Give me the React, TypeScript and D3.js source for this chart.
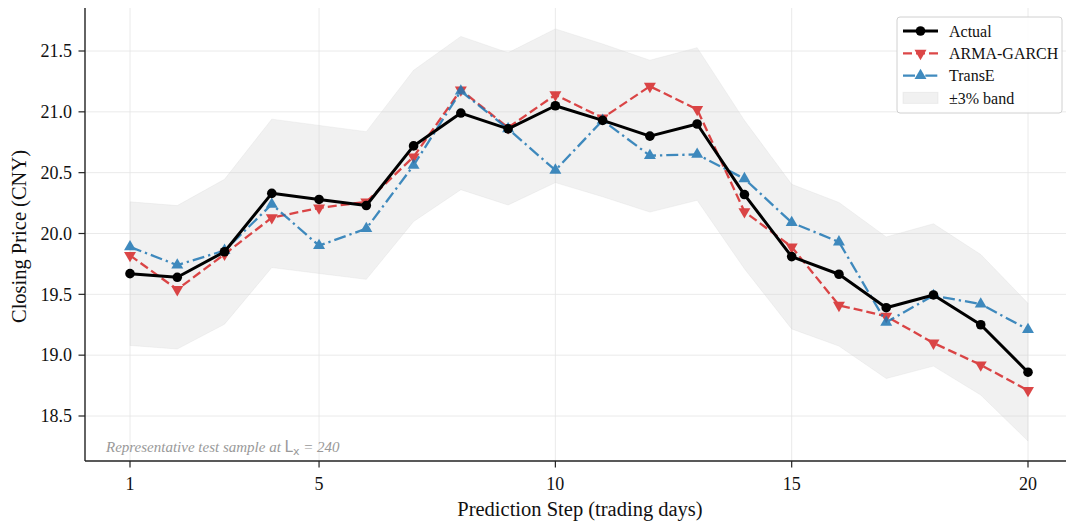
import React from "react";
import * as d3 from "d3";

const steps = [1, 2, 3, 4, 5, 6, 7, 8, 9, 10, 11, 12, 13, 14, 15, 16, 17, 18, 19, 20];
const actual = [19.67, 19.64, 19.85, 20.33, 20.28, 20.23, 20.72, 20.99, 20.86, 21.05, 20.93, 20.8, 20.9, 20.32, 19.81, 19.665, 19.39, 19.495, 19.25, 18.86];
const armaGarch = [19.82, 19.54, 19.83, 20.13, 20.21, 20.26, 20.63, 21.18, 20.87, 21.14, 20.95, 21.21, 21.02, 20.18, 19.89, 19.41, 19.32, 19.1, 18.92, 18.71];
const transE = [19.89, 19.74, 19.86, 20.24, 19.9, 20.04, 20.56, 21.17, 20.86, 20.52, 20.93, 20.64, 20.65, 20.45, 20.09, 19.93, 19.27, 19.49, 19.42, 19.21];
const BAND_PCT = 0.03;
const xTicks = [1, 5, 10, 15, 20];
const yTicks = [18.5, 19.0, 19.5, 20.0, 20.5, 21.0, 21.5];
const legendLabels = ["Actual", "ARMA-GARCH", "TransE", "±3% band"];

const W = 1066;
const H = 522;
const left = 85;
const right = 1066;
const top = 8;
const bottom = 461;

const RED = "#d62728";
const BLUE = "#1f77b4";
const SERIF = "'Liberation Serif', 'Times New Roman', serif";

export default function App() {
  const x = d3.scaleLinear().domain([1, 20]).range([130, 1028]);
  const y = d3.scaleLinear().domain([18.5, 21.5]).range([416, 51]);

  const line = d3
    .line<number>()
    .x((_, i) => x(steps[i]))
    .y((d) => y(d));

  const area = d3
    .area<number>()
    .x((_, i) => x(steps[i]))
    .y0((d) => y(d * (1 - BAND_PCT)))
    .y1((d) => y(d * (1 + BAND_PCT)));

  const triUp = d3.symbol().type(d3.symbolTriangle).size(62)() as string;

  const legendX = 897;
  const legendY = 17;
  const rowY = (i: number) => legendY + 14 + i * 22.3;

  return (
    <svg
      width={W}
      height={H}
      style={{ position: "absolute", left: 0, top: 0, background: "#fff" }}
      fontFamily={SERIF}
    >
      <defs>
        <clipPath id="plotclip">
          <rect x={left} y={top} width={right - left} height={bottom - top} />
        </clipPath>
      </defs>
      <rect x={0} y={0} width={W} height={H} fill="#fff" />
      {/* grid */}
      <g stroke="#e4e4e4" strokeWidth={0.8}>
        {xTicks.map((t) => (
          <line key={"gx" + t} x1={x(t)} x2={x(t)} y1={top} y2={bottom} />
        ))}
        {yTicks.map((t) => (
          <line key={"gy" + t} x1={left} x2={right} y1={y(t)} y2={y(t)} />
        ))}
      </g>
      {/* band */}
      <path d={area(actual) as string} fill="#cfcfcf" fillOpacity={0.3} stroke="#cfcfcf" strokeOpacity={0.3} strokeWidth={0.8} />

      <g clipPath="url(#plotclip)">
        {/* ARMA-GARCH */}
        <g opacity={0.85}>
          <path d={line(armaGarch) as string} fill="none" stroke={RED} strokeWidth={2.3} strokeDasharray="9,4" />
          {armaGarch.map((v, i) => (
            <path key={"r" + i} d={triUp} transform={`translate(${x(steps[i])},${y(v)}) rotate(180)`} fill={RED} />
          ))}
        </g>
        {/* TransE */}
        <g opacity={0.85}>
          <path d={line(transE) as string} fill="none" stroke={BLUE} strokeWidth={2.3} strokeDasharray="12,4,2.3,4" />
          {transE.map((v, i) => (
            <path key={"b" + i} d={triUp} transform={`translate(${x(steps[i])},${y(v)})`} fill={BLUE} />
          ))}
        </g>
        {/* Actual */}
        <path d={line(actual) as string} fill="none" stroke="#000" strokeWidth={3} strokeLinejoin="round" />
        {actual.map((v, i) => (
          <circle key={"a" + i} cx={x(steps[i])} cy={y(v)} r={4.8} fill="#000" />
        ))}
      </g>

      {/* annotation */}
      <text x={106} y={452} fontSize={15} fontStyle="italic" fill="#999">
        Representative test sample at{" "}
        <tspan fontFamily="'DejaVu Sans', sans-serif" fontStyle="normal">L</tspan>
        <tspan fontFamily="'DejaVu Sans', sans-serif" fontStyle="normal" fontSize={11} dy={3}>x</tspan>
        <tspan dy={-3}> = 240</tspan>
      </text>

      {/* axes */}
      <line x1={left} x2={left} y1={top} y2={bottom} stroke="#222" strokeWidth={1.4} />
      <line x1={left} x2={right} y1={bottom} y2={bottom} stroke="#222" strokeWidth={1.4} />
      {yTicks.map((t) => (
        <g key={"yt" + t}>
          <line x1={left - 6.5} x2={left} y1={y(t)} y2={y(t)} stroke="#222" strokeWidth={1.2} />
          <text x={left - 13} y={y(t)} dy="0.35em" textAnchor="end" fontSize={18} fill="#111">
            {t.toFixed(1)}
          </text>
        </g>
      ))}
      {xTicks.map((t) => (
        <g key={"xt" + t}>
          <line x1={x(t)} x2={x(t)} y1={bottom} y2={bottom + 6.5} stroke="#222" strokeWidth={1.2} />
          <text x={x(t)} y={bottom + 29} textAnchor="middle" fontSize={18} fill="#111">
            {t}
          </text>
        </g>
      ))}
      <text x={580} y={516} textAnchor="middle" fontSize={20.5} fill="#111">
        Prediction Step (trading days)
      </text>
      <text
        transform={`translate(26,${(top + bottom) / 2 + 2}) rotate(-90)`}
        textAnchor="middle"
        fontSize={20.5}
        fill="#111"
      >
        Closing Price (CNY)
      </text>

      {/* legend */}
      <rect x={legendX} y={legendY} width={165} height={96} rx={3} fill="#fff" fillOpacity={0.9} stroke="#d0d0d0" strokeWidth={1} />
      {legendLabels.map((lab, i) => {
        const ly = rowY(i);
        const x0 = legendX + 6;
        const x1 = legendX + 41;
        const xm = (x0 + x1) / 2;
        return (
          <g key={"lg" + i}>
            {i === 0 && (
              <g>
                <line x1={x0} x2={x1} y1={ly} y2={ly} stroke="#000" strokeWidth={3} />
                <circle cx={xm} cy={ly} r={4.8} fill="#000" />
              </g>
            )}
            {i === 1 && (
              <g opacity={0.85}>
                <line x1={x0} x2={x1} y1={ly} y2={ly} stroke={RED} strokeWidth={2.3} strokeDasharray="9,4" />
                <path d={triUp} transform={`translate(${xm},${ly}) rotate(180)`} fill={RED} />
              </g>
            )}
            {i === 2 && (
              <g opacity={0.85}>
                <line x1={x0} x2={x1} y1={ly} y2={ly} stroke={BLUE} strokeWidth={2.3} strokeDasharray="12,4,2.3,4" />
                <path d={triUp} transform={`translate(${xm},${ly})`} fill={BLUE} />
              </g>
            )}
            {i === 3 && (
              <rect x={x0} y={ly - 5.5} width={x1 - x0} height={11} fill="#cfcfcf" fillOpacity={0.3} stroke="#cfcfcf" strokeOpacity={0.3} />
            )}
            <text x={legendX + 52} y={ly} dy="0.35em" fontSize={16} fill="#111">
              {lab}
            </text>
          </g>
        );
      })}
    </svg>
  );
}
